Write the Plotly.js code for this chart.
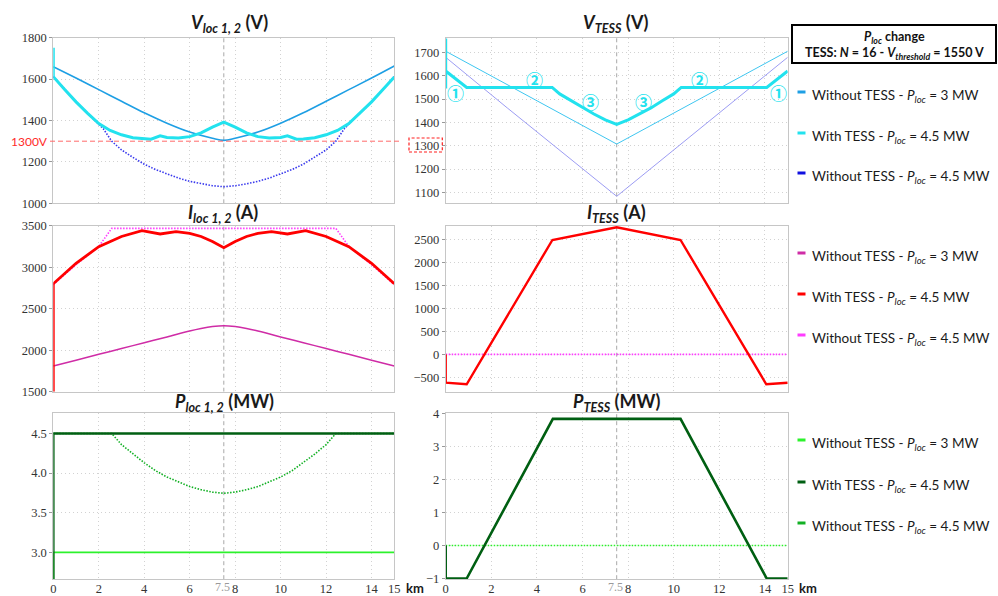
<!DOCTYPE html>
<html><head><meta charset="utf-8">
<script src="https://cdn.plot.ly/plotly-3.0.1.min.js"></script>
<style>html,body{margin:0;padding:0;background:#fff;} #chart{width:998px;height:596px;}</style>
</head><body><div id="chart"></div>
<script>
// ---------- DATA ----------
// V_loc 1,2 (V)
const vlocKm3 = [0,1,2,3,4,5,6,7,7.5,8,9,10,11,12,13,14,15];
const vloc3MW = [1660,1605,1549,1493,1437,1387,1344,1314,1304,1314,1344,1387,1437,1493,1549,1605,1663];
const vlocKmTess = [0,0,0.5,1,1.5,2,2.5,3,3.5,4,4.3,4.7,5,5.5,6,6.5,7,7.5,8,8.5,9,9.5,10,10.3,10.7,11,11.5,12,12.5,13,13.5,14,14.5,15];
const vlocTess = [1752,1612,1550,1490,1436,1385,1352,1331,1317,1311,1310,1326,1318,1316,1322,1340,1368,1392,1368,1340,1322,1316,1318,1326,1310,1311,1317,1331,1352,1385,1436,1490,1550,1610];
const vlocKm45 = [0,0.5,1,1.5,1.8,2.2,2.57,3,3.5,4,4.5,5,5.5,6,6.5,7,7.5,8,8.5,9,9.5,10,10.5,11,11.5,12,12.43,12.8,13.2,13.5,14,14.5,15];
const vloc45 = [1612,1550,1490,1436,1405,1360,1300,1258,1222,1189,1163,1141,1122,1106,1094,1085,1080,1085,1094,1106,1122,1141,1163,1189,1222,1258,1300,1360,1405,1436,1490,1550,1612];
const vlocLimit = 1300;

// V_TESS (V)
const vtessKm3 = [0,7.5,15];
const vtess3MW = [1705,1307,1705];
const vtessKmTess = [0,0,0,0.92,4.67,5,5.5,6,6.5,7,7.5,8,8.5,9,9.5,10,10.33,14.08,15];
const vtessTess = [1760,1545,1620,1550,1550,1522,1493,1462,1436,1411,1391,1411,1436,1462,1493,1522,1550,1550,1620];
const vtessKm45 = [0,2.7,7.5,12.3,15];
const vtess45 = [1679,1462,1083,1462,1679];

// I_loc 1,2 (A)
const ilocKm3 = [0,1,2,3,4,5,6,6.5,7,7.5,8,8.5,9,10,11,12,13,14,15];
const iloc3MW = [1810,1880,1950,2020,2090,2160,2232,2262,2285,2295,2285,2262,2232,2160,2090,2020,1950,1880,1810];
const ilocKmTess = [0,0,1,2,3,3.9,4.7,5.4,6,6.5,7,7.5,8,8.5,9,9.6,10.3,11.1,12,13,14,15];
const ilocTess = [1500,2800,3047,3247,3370,3440,3400,3428,3408,3370,3310,3235,3310,3370,3408,3428,3400,3440,3370,3247,3047,2800];
const ilocKm45 = [0,1,2,2.57,12.43,13,14,15];
const iloc45 = [2790,3030,3250,3468,3468,3250,3030,2790];

// I_TESS (A)
const itessKm = [0,0,0.92,4.68,7.5,10.3,14.06,15];
const itessTess = [0,-618,-653,2500,2777,2500,-653,-618];
const itessKm0 = [0,15];
const itess0 = [0,0];

// P_loc 1,2 (MW)
const plocKm = [0,0,15];
const plocTess = [2.6,4.5,4.5];
const ploc3MW = [2.6,3.0,3.0];
const plocKm45 = [0,2.57,3,3.5,4,4.5,5,5.5,6,6.5,7,7.5,8,8.5,9,9.5,10,10.5,11,11.5,12,12.43,15];
const ploc45 = [4.5,4.5,4.36,4.24,4.13,4.03,3.95,3.89,3.83,3.79,3.76,3.745,3.76,3.79,3.83,3.89,3.95,4.03,4.13,4.24,4.36,4.5,4.5];

// P_TESS (MW)
const ptessKm = [0,0,0.92,4.7,10.3,14.08,15];
const ptessTess = [0,-1,-1,3.83,3.83,-1,-1];
const ptessKm0 = [0,15];
const ptess0 = [0,0];

// ticks
const xTickVals = [0,2,4,6,8,10,12,14,15];
const xTickText = ['0','2','4','6','8','10','12','14','15'];
const xMidKm = 7.5;
const yTicks1 = [1000,1200,1400,1600,1800];
const yTicks2 = [1100,1200,1300,1400,1500,1600,1700];
const yTicks3 = [1500,2000,2500,3000,3500];
const yTicks4 = [-500,0,500,1000,1500,2000,2500];
const yTicks5 = [3,3.5,4,4.5];
const yTicks5Text = ['3.0','3.5','4.0','4.5'];
const yTicks6 = [-1,0,1,2,3,4];

// legend labels
const legendLabels = [
  'Without TESS - <i>P</i><sub><i>loc</i></sub> = 3 MW',
  'With TESS - <i>P</i><sub><i>loc</i></sub> = 4.5 MW',
  'Without TESS - <i>P</i><sub><i>loc</i></sub> = 4.5 MW'
];

// ---------- STYLE ----------
const C = {
  blue3: '#1e9fe4', cyan: '#22e2ee', blue45: '#3a3aee',
  blue3thin: '#3ec6f0', blue45thin: '#9c9cf3',
  mag3: '#cf2ca6', red: '#ff0000', mag45: '#ff3cff',
  green3: '#2cf22c', dgreen: '#005f12', green45: '#12b024'
};
const W = 998, H = 596;
const px = v => v / W, py = v => 1 - v / H;
const colL = [px(53.3), px(394.3)], colM = [px(445.7), px(787.7)];
const rowT = [py(203.3), py(37.7)], rowM = [py(391.7), py(225.7)], rowB = [py(579.2), py(412.9)];
const SERIF = "'Liberation Serif','DejaVu Serif',serif";
const SANS = "Lato,'Open Sans',sans-serif";

function tr(x, y, ax, color, width, dash, shape) {
  return {x, y, xaxis: 'x' + ax, yaxis: 'y' + ax, type: 'scatter', mode: 'lines',
    line: {color, width, dash: dash || 'solid', shape: shape || 'linear'},
    hoverinfo: 'skip', showlegend: false};
}
const DOT = '1.5px,1.5px';
const data = [
  tr(vlocKm3, vloc3MW, '', C.blue3, 1.6, 'solid', 'spline'),
  tr(vlocKm45, vloc45, '', C.blue45, 1.6, DOT),
  tr(vlocKmTess, vlocTess, '', C.cyan, 3),
  tr(vtessKm3, vtess3MW, '2', C.blue3thin, 1),
  tr(vtessKm45, vtess45, '2', C.blue45thin, 1),
  tr(vtessKmTess, vtessTess, '2', C.cyan, 3),
  tr(ilocKm3, iloc3MW, '3', C.mag3, 1.5, 'solid', 'spline'),
  tr(ilocKm45, iloc45, '3', C.mag45, 1.6, DOT),
  tr(ilocKmTess, ilocTess, '3', C.red, 2.8),
  tr(itessKm0, itess0, '4', C.mag45, 1.6, DOT),
  tr(itessKm, itessTess, '4', C.red, 2.4),
  tr(plocKm, ploc3MW, '5', C.green3, 1.8),
  tr(plocKm45, ploc45, '5', C.green45, 1.6, DOT),
  tr(plocKm, plocTess, '5', C.dgreen, 2.6),
  tr(ptessKm0, ptess0, '6', C.green3, 1.4, DOT),
  tr(ptessKm, ptessTess, '6', C.dgreen, 2.6)
];

function xax(dom, anchor, labels) {
  return {domain: dom, anchor, range: [0, 15], tickvals: xTickVals, ticktext: xTickText, tickangle: 0,
    showticklabels: labels, ticks: '', ticklabelstandoff: -2, showgrid: true, gridcolor: '#d2d2d2', griddash: '1px,3px', gridwidth: 1,
    showline: true, mirror: true, linecolor: '#c6c6c6', linewidth: 1, zeroline: false,
    tickfont: {family: SERIF, size: 12.5, color: '#333'}};
}
function yax(dom, anchor, range, vals, text) {
  const a = {domain: dom, anchor, range, tickvals: vals, ticks: 'outside', ticklen: 3, tickcolor: '#999',
    showgrid: true, gridcolor: '#d2d2d2', griddash: '1px,3px', gridwidth: 1,
    showline: true, mirror: true, linecolor: '#c6c6c6', linewidth: 1, zeroline: false,
    tickfont: {family: SERIF, size: 12.5, color: '#333'}};
  if (text) a.ticktext = text;
  return a;
}

const titles = [
  ['<b><i>V</i><sub><i>loc 1, 2</i></sub> (V)</b>', 229, 24],
  ['<b><i>V</i><sub><i>TESS</i></sub> (V)</b>', 616, 24],
  ['<b><i>I</i><sub><i>loc 1, 2</i></sub> (A)</b>', 223, 213],
  ['<b><i>I</i><sub><i>TESS</i></sub> (A)</b>', 616.5, 213],
  ['<b><i>P</i><sub><i>loc 1, 2</i></sub> (MW)</b>', 224.5, 402],
  ['<b><i>P</i><sub><i>TESS</i></sub> (MW)</b>', 616, 402]
];
const annotations = titles.map(t => ({text: t[0], xref: 'paper', yref: 'paper', x: px(t[1]), y: py(t[2]),
  xanchor: 'center', yanchor: 'middle', showarrow: false, font: {family: SANS, size: 18, color: '#1a1a1a'}}));

// km units
[[404, 588], [797, 588]].forEach(p => annotations.push({text: '<b>km</b>', xref: 'paper', yref: 'paper',
  x: px(p[0]), y: py(p[1]), xanchor: 'left', yanchor: 'middle', showarrow: false,
  font: {family: SANS, size: 13, color: '#1a1a1a'}}));
// 7.5 km labels (grey, slightly raised)
['x5', 'x6'].forEach(a => annotations.push({text: String(xMidKm), xref: a, yref: 'paper', x: xMidKm, y: py(587),
  xanchor: 'center', yanchor: 'middle', xshift: -1, showarrow: false, font: {family: SERIF, size: 12, color: '#9a9a9a'}}));

// 1300V label
annotations.push({text: '1300V', xref: 'paper', yref: 'y', x: px(50), y: vlocLimit, xanchor: 'right', yanchor: 'middle',
  showarrow: false, font: {family: SANS, size: 12, color: '#ff2a2a'}});

// circled numbers on V_TESS
const circ = [['①', 0.45, 1527], ['②', 3.89, 1585], ['③', 6.33, 1490], ['③', 8.67, 1490], ['②', 11.15, 1585], ['①', 14.58, 1527]];
circ.forEach(c => annotations.push({text: '<b>' + c[0] + '</b>', xref: 'x2', yref: 'y2', x: c[1], y: c[2], showarrow: false,
  xanchor: 'center', yanchor: 'middle', font: {family: "'Noto Sans CJK JP','DejaVu Sans',sans-serif", size: 17, color: C.cyan}}));

// legend box texts
annotations.push({text: '<b><i>P</i><sub><i>loc</i></sub> change</b>', xref: 'paper', yref: 'paper', x: px(894), y: py(37),
  xanchor: 'center', yanchor: 'middle', showarrow: false, font: {family: SANS, size: 12.5, color: '#111'}});
annotations.push({text: '<b>TESS: <i>N</i> = 16 - <i>V</i><sub><i>threshold</i></sub> = 1550 V</b>', xref: 'paper', yref: 'paper',
  x: px(894), y: py(53), xanchor: 'center', yanchor: 'middle', showarrow: false, font: {family: SANS, size: 12.5, color: '#111'}});

const shapes = [];
// legend groups
const groups = [
  {ys: [96, 137, 177], colors: [C.blue3, C.cyan, '#1010e0']},
  {ys: [257, 298, 339], colors: [C.mag3, C.red, C.mag45]},
  {ys: [444, 486, 527], colors: [C.green3, C.dgreen, C.green45]}
];
groups.forEach(g => g.ys.forEach((y, i) => {
  annotations.push({text: legendLabels[i], xref: 'paper', yref: 'paper', x: px(810), y: py(y), xanchor: 'left', yanchor: 'middle',
    showarrow: false, font: {family: SANS, size: 13.5, color: '#1a1a1a'}});
  shapes.push({type: 'line', xref: 'paper', yref: 'paper', x0: px(797.5), x1: px(805.5), y0: py(y - 4), y1: py(y - 4),
    line: {color: g.colors[i], width: 3}});
}));
// legend box border
shapes.push({type: 'rect', xref: 'paper', yref: 'paper', x0: px(792), x1: px(996), y0: py(63), y1: py(25),
  line: {color: '#000', width: 2}});
// 1300 V limit line
shapes.push({type: 'line', xref: 'paper', yref: 'y', x0: px(50), x1: px(400), y0: vlocLimit, y1: vlocLimit,
  line: {color: '#ff6a6a', width: 1, dash: '5px,3px'}});
// dashed box around 1300 tick on V_TESS
shapes.push({type: 'rect', xref: 'paper', yref: 'paper', x0: px(409), x1: px(442.3), y0: py(152), y1: py(138),
  line: {color: '#ff2020', width: 1.2, dash: '3px,2px'}});
// 7.5 km dashed markers (one per panel)
const panelY = {'': [1000, 1800], '2': [1053, 1763], '3': [1500, 3500], '4': [-815, 2812], '5': [2.66, 4.76], '6': [-1.02, 4.01]};
Object.keys(panelY).forEach(a => shapes.push({type: 'line', xref: 'x' + a, yref: 'y' + a,
  x0: xMidKm, x1: xMidKm, y0: panelY[a][0], y1: panelY[a][1], layer: 'below', line: {color: '#a8a8a8', width: 1, dash: '4px,3px'}}));

const layout = {
  width: W, height: H, margin: {l: 0, r: 0, t: 0, b: 0}, paper_bgcolor: '#fff', plot_bgcolor: 'rgba(0,0,0,0)',
  showlegend: false,
  xaxis: xax(colL, 'y', false), yaxis: yax(rowT, 'x', panelY[''], yTicks1),
  xaxis2: xax(colM, 'y2', false), yaxis2: yax(rowT, 'x2', panelY['2'], yTicks2),
  xaxis3: xax(colL, 'y3', false), yaxis3: yax(rowM, 'x3', panelY['3'], yTicks3),
  xaxis4: xax(colM, 'y4', false), yaxis4: yax(rowM, 'x4', panelY['4'], yTicks4),
  xaxis5: xax(colL, 'y5', true), yaxis5: yax(rowB, 'x5', panelY['5'], yTicks5, yTicks5Text),
  xaxis6: xax(colM, 'y6', true), yaxis6: yax(rowB, 'x6', panelY['6'], yTicks6),
  annotations, shapes
};
Plotly.newPlot('chart', data, layout, {staticPlot: true, displayModeBar: false});
</script></body></html>
